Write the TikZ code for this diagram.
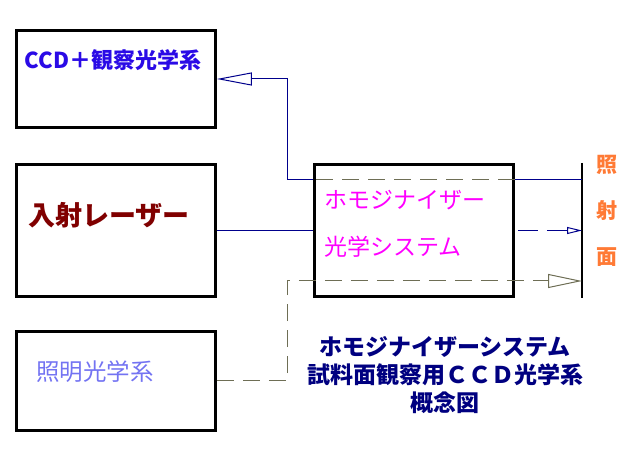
\documentclass[tikz,border=0pt]{standalone}
\usepackage{fontspec}
\usepackage{xcolor}
\usepackage{tikz}
\usetikzlibrary{arrows.meta,positioning,calc}
\newfontfamily\jpfont{Noto Sans CJK JP}
\definecolor{CcdBlue}{HTML}{2A0AE6}
\definecolor{LaserRed}{HTML}{800000}
\definecolor{HomMagenta}{HTML}{FF00FF}
\definecolor{IllumBlue}{HTML}{7373F2}
\definecolor{TitleNavy}{HTML}{000080}
\definecolor{SurfOrange}{HTML}{FF7A35}
\definecolor{BeamNavy}{HTML}{00008C}
\definecolor{BeamGray}{HTML}{6E6E55}

\begin{document}
\begin{tikzpicture}[x=1pt, y=-1pt,
    unit/.style={draw, line width=2.6pt, minimum width=199pt, inner sep=0pt},
    lbl/.style={inner sep=0pt, font=\jpfont\fontsize{#1}{#1}\selectfont},
    blbl/.style={inner sep=0pt, font=\jpfont\bfseries\fontsize{#1}{#1}\selectfont},
    beam/.style={draw=BeamNavy, line width=1pt},
    beamdash/.style={beam, dash pattern=on 20pt off 9pt},
    grayline/.style={draw=BeamGray, line width=1pt, dash pattern=on 17pt off 9pt},
    surface/.style={draw, line width=1.4pt}
  ]
    \useasboundingbox (0,0) rectangle (630,465);
    % boxes
    \node[unit, minimum height=97pt] (ccd) at (116,79) {};
    \node[unit, minimum height=132pt] (laser) at (116,230.5) {};
    \node[unit, minimum height=132pt] (homog) at (414,230.5) {};
    \node[unit, minimum height=99pt] (illum) at (116,381) {};
    % labels
    \node[blbl=22, text=CcdBlue] (ccdtxt) at (113,60) {CCD＋観察光学系};
    \node[blbl=27, text=LaserRed] (lasertxt) at (109,215) {入射レーザー};
    \node[lbl=23, text=HomMagenta, anchor=west] (homtxta) at (324,200) {ホモジナイザー};
    \node[lbl=23, text=HomMagenta, anchor=west] (homtxtb) at (324,247) {光学システム};
    \node[lbl=23.5, text=IllumBlue] (illtxt) at (95,372) {照明光学系};
    \node[inner sep=0pt, text=SurfOrange, align=center,
      font=\jpfont\bfseries\fontsize{21}{46}\selectfont] (surftxt) at (607,211) {照\\射\\面};
    \node[inner sep=0pt, text=TitleNavy, align=center,
      font=\jpfont\bfseries\fontsize{23}{28}\selectfont] (title) at (445,375)
      {ホモジナイザーシステム\\試料面観察用ＣＣＤ光学系\\概念図};
    % irradiated surface
    \coordinate (surftop) at (582,163);
    \coordinate (surfbot) at (582,298);
    \coordinate (hitccd) at (582,180);
    \coordinate (hitlaser) at (582,230.5);
    \coordinate (hitill) at (582,281);
    \coordinate (jog) at (287,281);
    \draw[surface] (surftop) -- (surfbot);
    % observation path
    \draw[beam] (hitccd) -- (homog.east |- hitccd);
    \draw[grayline] (homog.east |- hitccd) -- (homog.west |- hitccd);
    \draw[beam, -{Triangle[open, length=35pt, width=13pt]}] (homog.west |- hitccd) -- (jog |- hitccd) |- (ccd.east);
    % laser path
    \draw[beam] (laser.east) -- (homog.west);
    \draw[beamdash, -{Triangle[open, length=15pt, width=7pt]}] ([xshift=3pt]homog.east) -- (hitlaser);
    % illumination path
    \draw[grayline, -{Triangle[open, length=34pt, width=14pt]}] (illum.east) -| (jog) -- (hitill);
  \end{tikzpicture}
\end{document}
